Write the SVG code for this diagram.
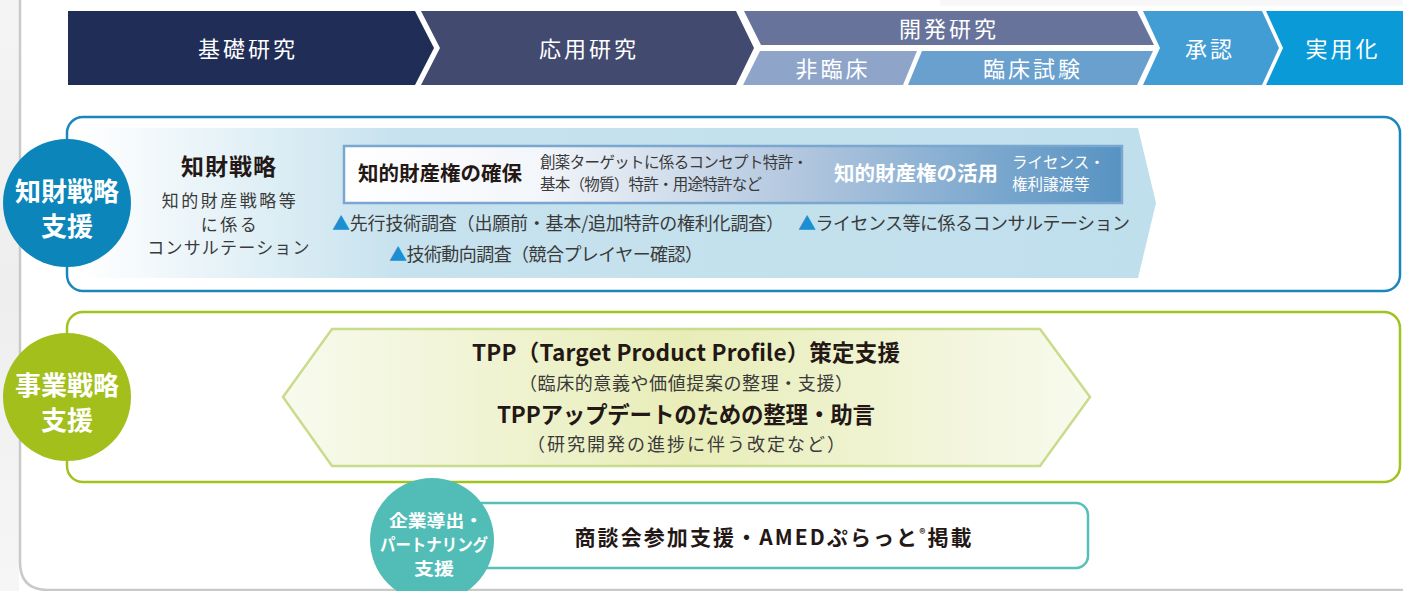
<svg xmlns="http://www.w3.org/2000/svg" width="1403" height="591" viewBox="0 0 1403 591">
<defs>
<linearGradient id="bg1" gradientUnits="userSpaceOnUse" x1="80" y1="0" x2="1156" y2="0">
<stop offset="0" stop-color="#ffffff"/>
<stop offset="0.3" stop-color="#c6e2ee"/>
<stop offset="1" stop-color="#c0dfec"/>
</linearGradient>
<linearGradient id="box1" gradientUnits="userSpaceOnUse" x1="344" y1="0" x2="1122" y2="0">
<stop offset="0" stop-color="#ffffff"/>
<stop offset="0.25" stop-color="#f3f6fa"/>
<stop offset="0.58" stop-color="#b3c7df"/>
<stop offset="1" stop-color="#5793c2"/>
</linearGradient>
<linearGradient id="hex" gradientUnits="userSpaceOnUse" x1="283" y1="0" x2="1090" y2="0">
<stop offset="0" stop-color="#f8faee"/>
<stop offset="0.5" stop-color="#e8edb8"/>
<stop offset="1" stop-color="#f8faee"/>
</linearGradient>
<linearGradient id="side" x1="0" y1="0" x2="0" y2="1">
<stop offset="0" stop-color="#f4f4f4"/>
<stop offset="0.5" stop-color="#eeeeee"/>
<stop offset="1" stop-color="#f6f6f6"/>
</linearGradient>
</defs>
<style>
.t{font-family:"Noto Sans CJK JP","Noto Sans",sans-serif;}
.top{font-size:22px;fill:#ffffff;text-anchor:middle;letter-spacing:3px;}
.circ{font-size:26px;font-weight:bold;fill:#ffffff;text-anchor:middle;}
.dk{fill:#231815;}
.gr{fill:#3a3a3a;}
.b{font-weight:bold;}
.tri{fill:#1b8fd2;}
</style>
<rect x="0" y="0" width="1403" height="591" fill="#ffffff"/>
<rect x="0" y="0" width="19" height="591" fill="url(#side)"/>
<rect x="940" y="0" width="463" height="6" fill="#f8f8f8"/>
<path d="M20 0 V562 Q20 590 48 590 H1403" fill="none" stroke="#c9c9c9" stroke-width="2.5"/>

<g id="stages">
<polygon points="68,11 415,11 434,48 415,85 68,85" fill="#1f2d57"/>
<polygon points="421,11 736,11 754,48 736,85 421,85 440,48" fill="#434a6f"/>
<polygon points="744,11 1137,11 1154,45 761,45" fill="#67739a"/>
<polygon points="760,51 917,51 903,85 743,85" fill="#8ea5c9"/>
<polygon points="922,51 1153,51 1137,85 908,85" fill="#6aa0cd"/>
<polygon points="1143,11 1262,11 1279,48 1262,85 1143,85 1160,48" fill="#429dd5"/>
<polygon points="1266,11 1403,11 1403,85 1266,85 1283,48" fill="#0b9ad8"/>
<text class="t top" x="248" y="57">基礎研究</text>
<text class="t top" x="589" y="57">応用研究</text>
<text class="t top" x="949" y="37">開発研究</text>
<text class="t top" x="833" y="77">非臨床</text>
<text class="t top" x="1033" y="77">臨床試験</text>
<text class="t top" x="1210" y="57">承認</text>
<text class="t top" x="1343" y="57">実用化</text>
</g>

<g id="ip-strategy">
<rect x="67" y="117" width="1333" height="174" rx="16" fill="#ffffff" stroke="#1b86bd" stroke-width="2.5"/>
<polygon points="80,128 1138,128 1156,203 1138,278 80,278" fill="url(#bg1)"/>
<circle cx="67" cy="203" r="64" fill="#0b85ba"/>
<text class="t circ" x="67" y="201">知財戦略</text>
<text class="t circ" x="67" y="236">支援</text>
<text class="t dk b" x="229" y="175" font-size="23" text-anchor="middle" letter-spacing="1">知財戦略</text>
<text class="t gr" x="230" y="207" font-size="17" text-anchor="middle" letter-spacing="2.5">知的財産戦略等</text>
<text class="t gr" x="230" y="231" font-size="17" text-anchor="middle" letter-spacing="2.5">に係る</text>
<text class="t gr" x="229" y="254" font-size="17" text-anchor="middle" letter-spacing="1.2">コンサルテーション</text>
<rect x="344" y="146" width="778" height="57" fill="url(#box1)" stroke="#7aa7cf" stroke-width="2.5"/>
<text class="t dk b" x="358" y="181" font-size="20.5">知的財産権の確保</text>
<text class="t gr" x="540" y="168" font-size="15.5" textLength="268" lengthAdjust="spacing">創薬ターゲットに係るコンセプト特許・</text>
<text class="t gr" x="540" y="190" font-size="15.5" textLength="222" lengthAdjust="spacing">基本（物質）特許・用途特許など</text>
<text class="t b" x="916" y="181" font-size="20.5" fill="#ffffff" text-anchor="middle">知的財産権の活用</text>
<text class="t" x="1012" y="168" font-size="15.5" fill="#ffffff">ライセンス・</text>
<text class="t" x="1012" y="190" font-size="15.5" fill="#ffffff">権利譲渡等</text>
<text class="t gr" x="332" y="230" font-size="18" textLength="452" lengthAdjust="spacing"><tspan class="tri">▲</tspan>先行技術調査（出願前・基本/追加特許の権利化調査）</text>
<text class="t gr" x="798" y="230" font-size="18" textLength="332" lengthAdjust="spacing"><tspan class="tri">▲</tspan>ライセンス等に係るコンサルテーション</text>
<text class="t gr" x="389" y="261" font-size="18" textLength="314" lengthAdjust="spacing"><tspan class="tri">▲</tspan>技術動向調査（競合プレイヤー確認）</text>
</g>

<g id="biz-strategy">
<rect x="67" y="312" width="1333" height="170" rx="16" fill="#ffffff" stroke="#a2c21f" stroke-width="2.5"/>
<polygon points="283,397 332,329 1040,329 1090,397 1040,466 332,466" fill="url(#hex)" stroke="#c8dc8c" stroke-width="2.5"/>
<circle cx="67" cy="397" r="64" fill="#a2bf1c"/>
<text class="t circ" x="67" y="395">事業戦略</text>
<text class="t circ" x="67" y="430">支援</text>
<text class="t dk b" x="686" y="361" font-size="22.5" text-anchor="middle" textLength="428" lengthAdjust="spacing">TPP（Target Product Profile）策定支援</text>
<text class="t gr" x="686" y="390" font-size="18" text-anchor="middle" textLength="334" lengthAdjust="spacing">（臨床的意義や価値提案の整理・支援）</text>
<text class="t dk b" x="686" y="423" font-size="22.5" text-anchor="middle" textLength="378" lengthAdjust="spacing">TPPアップデートのための整理・助言</text>
<text class="t gr" x="686" y="451" font-size="18" text-anchor="middle" textLength="318" lengthAdjust="spacing">（研究開発の進捗に伴う改定など）</text>
</g>

<g id="partnering">
<rect x="470" y="503" width="618" height="65" rx="12" fill="#ffffff" stroke="#56bfb8" stroke-width="2.5"/>
<circle cx="432" cy="540" r="62" fill="#52bdb6"/>
<text class="t b" x="436" y="527" font-size="17" fill="#ffffff" text-anchor="middle" textLength="94" lengthAdjust="spacingAndGlyphs">企業導出・</text>
<text class="t b" x="434" y="551" font-size="17" fill="#ffffff" text-anchor="middle" textLength="108" lengthAdjust="spacingAndGlyphs">パートナリング</text>
<text class="t b" x="434" y="575" font-size="17" fill="#ffffff" text-anchor="middle" textLength="40" lengthAdjust="spacingAndGlyphs">支援</text>
<text class="t dk b" x="773" y="545" font-size="21" text-anchor="middle" textLength="397" lengthAdjust="spacing">商談会参加支援・AMEDぷらっと<tspan font-size="12" dy="-7">®</tspan><tspan dy="7">掲載</tspan></text>
</g>
</svg>
